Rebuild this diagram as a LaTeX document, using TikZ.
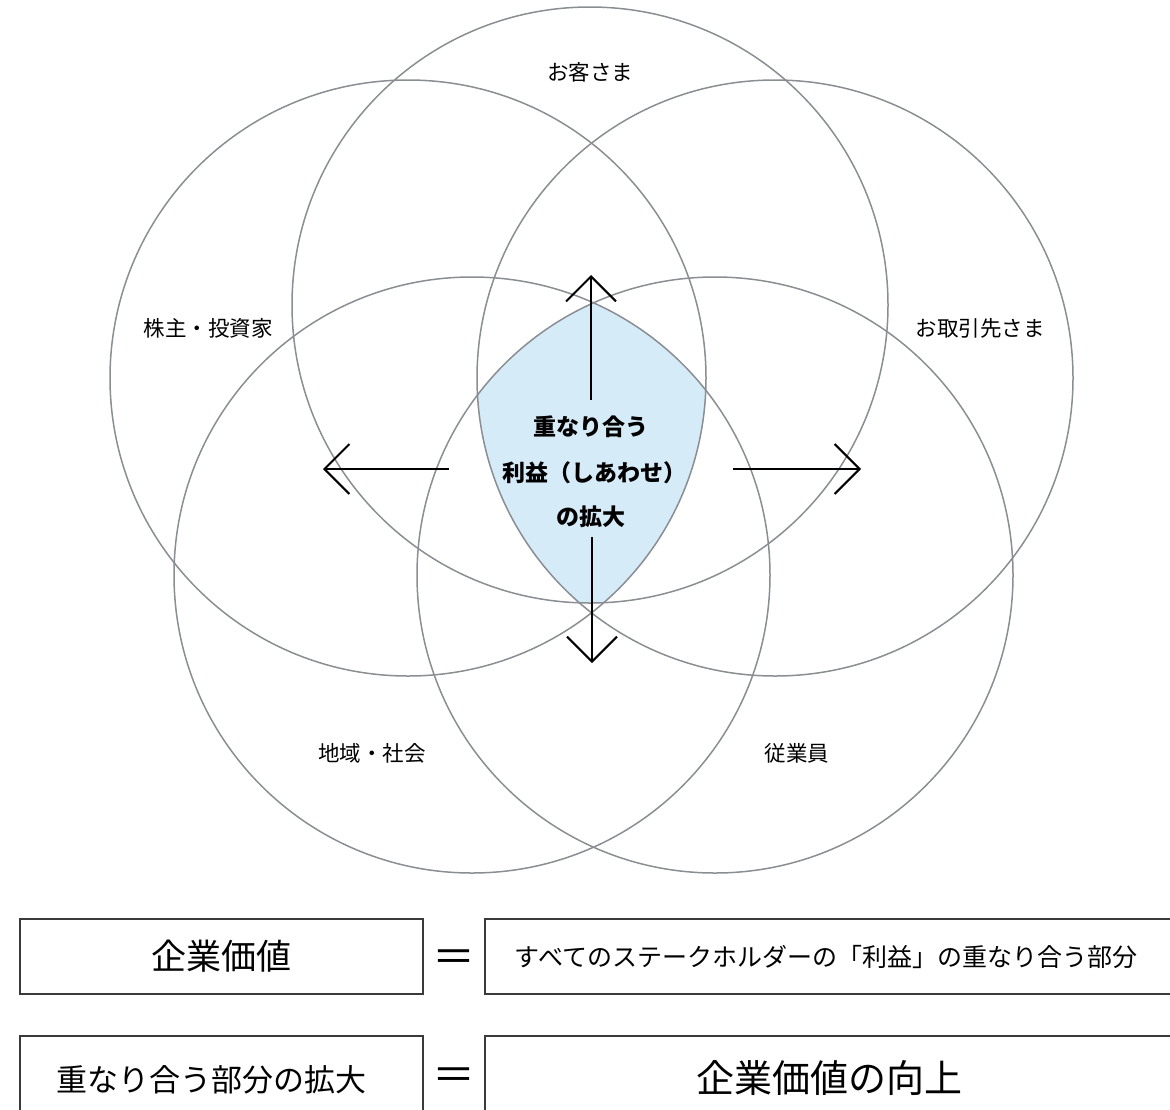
\documentclass[tikz,border=0pt]{standalone}
\usepackage{fontspec}
\setmainfont{Noto Sans CJK JP}
\newfontfamily\jpfont{Noto Sans CJK JP}
\usetikzlibrary{arrows.meta}
\definecolor{ringgray}{HTML}{8A8E92}
\definecolor{lensblue}{HTML}{D5EBF8}
\definecolor{boxline}{HTML}{3A3A3A}
\tikzset{
  ring/.style={circle, draw=ringgray, line width=1.5pt, minimum size=596pt, inner sep=0pt},
  lbl/.style={font=\jpfont\fontsize{21.5pt}{21.5pt}\selectfont, text=black},
  ctr/.style={font=\jpfont\bfseries\fontsize{23pt}{23pt}\selectfont, text=black, align=center},
  bigarrow/.style={line width=2pt, -{Straight Barb[length=25pt, width=50pt, line width=2pt]}},
  valbox/.style={draw=boxline, line width=1.2pt, fill=none},
  boxtxt/.style={font=\jpfont\fontsize{#1}{#1}\selectfont, text=black},
  eqsign/.style={font=\jpfont\fontsize{43pt}{43pt}\selectfont, text=black}
}
\begin{document}
\begin{tikzpicture}[x=1pt, y=-1pt]
\useasboundingbox (0,0) rectangle (1170,1109);
% centres
\coordinate (pT) at (590,305);
\coordinate (pUL) at (408,378);
\coordinate (pUR) at (775,378);
\coordinate (pLL) at (472,575);
\coordinate (pLR) at (715,575);
% shaded common region
\begin{scope}
  \clip (pT) circle[radius=298pt];
  \clip (pUL) circle[radius=298pt];
  \clip (pUR) circle[radius=298pt];
  \clip (pLL) circle[radius=298pt];
  \clip (pLR) circle[radius=298pt];
  \fill[lensblue] (0,0) rectangle (1170,900);
\end{scope}
% circles
\node[ring] (cT) at (pT) {};
\node[ring] (cUL) at (pUL) {};
\node[ring] (cUR) at (pUR) {};
\node[ring] (cLL) at (pLL) {};
\node[ring] (cLR) at (pLR) {};
% labels
\node[lbl] (lT) at (590,72) {お客さま};
\node[lbl] (lUL) at (208,328) {株主・投資家};
\node[lbl] (lUR) at (980,328) {お取引先さま};
\node[lbl] (lLL) at (372,753) {地域・社会};
\node[lbl] (lLR) at (797,753) {従業員};
% centre text
\node[ctr] (ct1) at (591,427) {重なり合う};
\node[ctr] (ct2) at (594,473) {利益（しあわせ）};
\node[ctr] (ct3) at (591,517) {の拡大};
% arrows
\coordinate (aUs) at (591,400);
\coordinate (aUe) at (591,275);
\coordinate (aDs) at (592,537);
\coordinate (aDe) at (592,663);
\coordinate (aLs) at (449,469);
\coordinate (aLe) at (323,469);
\coordinate (aRs) at (733,469);
\coordinate (aRe) at (861,469);
\draw[bigarrow] (aUs) -- (aUe);
\draw[bigarrow] (aDs) -- (aDe);
\draw[bigarrow] (aLs) -- (aLe);
\draw[bigarrow] (aRs) -- (aRe);
% bottom boxes
\node[valbox, minimum width=403pt, minimum height=75pt, inner sep=0pt] (b1) at (221.5,956.5) {};
\node[boxtxt=35pt] (t1) at (b1) {企業価値};
\node[eqsign] (e1) at (454,961) {＝};
\node[valbox, minimum width=700pt, minimum height=75pt, inner sep=0pt] (b2) at (835,956.5) {};
\node[boxtxt=25pt] (t2) at (826,957) {すべてのステークホルダーの「利益」の重なり合う部分};
\node[valbox, minimum width=403pt, minimum height=90pt, inner sep=0pt] (b3) at (221.5,1081) {};
\node[boxtxt=31pt] (t3) at (211,1080) {重なり合う部分の拡大};
\node[eqsign] (e2) at (454,1079) {＝};
\node[valbox, minimum width=700pt, minimum height=90pt, inner sep=0pt] (b4) at (835,1081) {};
\node[boxtxt=38pt] (t4) at (829,1078) {企業価値の向上};
\end{tikzpicture}
\end{document}
